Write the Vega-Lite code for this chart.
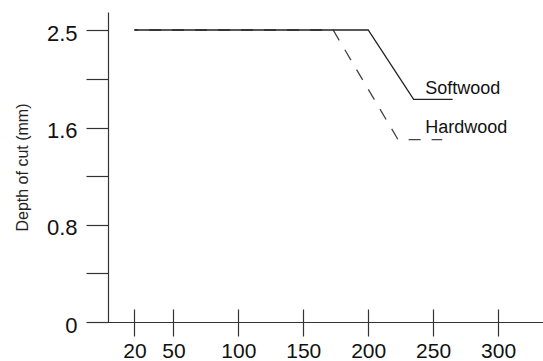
{
  "$schema": "https://vega.github.io/schema/vega-lite/v6.json",
  "width": 456,
  "height": 310,
  "autosize": {"type": "none"},
  "padding": {"left": 87, "top": 12, "right": 0, "bottom": 39},
  "background": "white",
  "config": {"view": {"stroke": null}, "font": "Liberation Sans", "axis": {"grid": false}},
  "datasets": {
    "lines": [
      {"series": "Hardwood", "x": 20, "y": 2.5},
      {"series": "Hardwood", "x": 173, "y": 2.5},
      {"series": "Hardwood", "x": 223, "y": 1.5},
      {"series": "Hardwood", "x": 257, "y": 1.5},
      {"series": "Softwood", "x": 20, "y": 2.5},
      {"series": "Softwood", "x": 200, "y": 2.5},
      {"series": "Softwood", "x": 235, "y": 1.86},
      {"series": "Softwood", "x": 265, "y": 1.86}
    ],
    "labels": [
      {"label": "Softwood", "x": 244, "y": 1.91},
      {"label": "Hardwood", "x": 244, "y": 1.555}
    ]
  },
  "resolve": {"axis": {"x": "independent"}},
  "encoding": {
    "y": {
      "field": "y",
      "type": "quantitative",
      "scale": {"domain": [0, 1.6, 2.5, 2.666], "range": [310, 115.5, 18, 0], "zero": false, "nice": false},
      "axis": {
        "values": [0, 0.4, 0.8, 1.2, 1.6, 2.05, 2.5],
        "labelExpr": "datum.value === 0 ? '0' : datum.value === 0.8 ? '0.8' : datum.value === 1.6 ? '1.6' : datum.value === 2.5 ? '2.5' : ''",
        "title": "Depth of cut (mm)",
        "offset": -21,
        "tickSize": 22,
        "tickColor": "#333",
        "tickWidth": 1.2,
        "domainColor": "#333",
        "domainWidth": 1.2,
        "labelFontSize": 22,
        "labelColor": "#111",
        "labelPadding": 9,
        "labelOffset": 3,
        "labelOverlap": false,
        "labelFlush": false,
        "titleFontSize": 16,
        "titleFontWeight": "normal",
        "titleColor": "#222",
        "titlePadding": 16
      }
    }
  },
  "layer": [
    {
      "data": {"name": "lines"},
      "transform": [{"filter": "datum.series === 'Hardwood'"}],
      "mark": {"type": "line", "color": "#444", "strokeWidth": 1.3, "strokeDash": [12, 11], "strokeDashOffset": 8.3},
      "encoding": {
        "x": {
          "field": "x",
          "type": "quantitative",
          "scale": {"domain": [-16.5, 334.6], "zero": false, "nice": false},
          "axis": {
            "orient": "bottom",
            "values": [20, 50, 100, 150, 200, 250, 300],
            "title": null,
            "tickSize": 14,
            "tickColor": "#333",
            "tickWidth": 1.2,
            "domainColor": "#333",
            "domainWidth": 1.2,
            "labelFontSize": 21,
            "labelColor": "#111",
            "labelPadding": 4,
            "labelOverlap": false,
            "labelFlush": false
          }
        }
      }
    },
    {
      "data": {"name": "lines"},
      "transform": [{"filter": "datum.series === 'Softwood'"}],
      "mark": {"type": "line", "color": "#222", "strokeWidth": 1.3},
      "encoding": {
        "x": {
          "field": "x",
          "type": "quantitative",
          "scale": {"domain": [-16.5, 334.6], "zero": false, "nice": false},
          "axis": {
            "orient": "bottom",
            "values": [20, 50, 100, 150, 200, 250, 300],
            "title": null,
            "offset": -13,
            "tickSize": 13,
            "tickColor": "#333",
            "tickWidth": 1.2,
            "domain": false,
            "labels": false
          }
        }
      }
    },
    {
      "data": {"name": "labels"},
      "mark": {"type": "text", "align": "left", "baseline": "alphabetic", "fontSize": 18, "color": "#111", "font": "Liberation Sans"},
      "encoding": {
        "x": {"field": "x", "type": "quantitative", "scale": {"domain": [-16.5, 334.6], "zero": false, "nice": false}, "axis": null},
        "text": {"field": "label", "type": "nominal"}
      }
    }
  ]
}
